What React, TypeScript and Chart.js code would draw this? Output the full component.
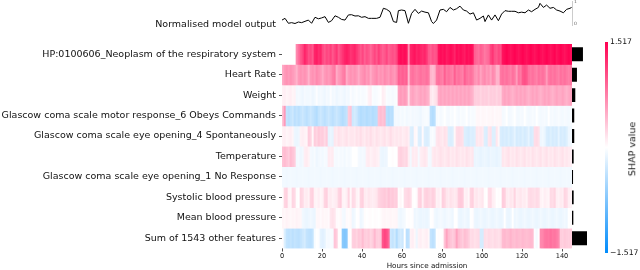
import React, { useEffect, useRef } from "react";
import { Chart, registerables } from "chart.js";

Chart.register(...registerables);
Chart.defaults.font.family = "'DejaVu Sans', sans-serif";

const rowLabels = [
  "HP:0100606_Neoplasm of the respiratory system",
  "Heart Rate",
  "Weight",
  "Glascow coma scale motor response_6 Obeys Commands",
  "Glascow coma scale eye opening_4 Spontaneously",
  "Temperature",
  "Glascow coma scale eye opening_1 No Response",
  "Systolic blood pressure",
  "Mean blood pressure",
  "Sum of 1543 other features",
];

// SHAP values per hour (0..144) for each feature row
const neoplasm = [
  0, 0, 0, 0, 0, 0, 0, 0.7, 0.85, 1.0,
  1.1, 1.3, 1.2, 1.05, 1.1, 1.0, 1.3, 1.35, 1.25, 1.3,
  1.1, 1.0, 1.1, 1.05, 1.15, 1.0, 1.1, 1.2, 1.0, 1.1,
  1.2, 1.3, 1.35, 1.3, 1.2, 1.25, 1.3, 1.2, 1.1, 1.0,
  1.1, 0.95, 1.05, 1.0, 0.9, 1.0, 1.1, 1.0, 1.15, 1.05,
  0.95, 1.0, 1.1, 0.95, 1.0, 1.05, 1.0, 1.1, 1.4, 1.45,
  1.4, 1.45, 1.4, 0.7, 1.3, 1.35, 1.4, 1.3, 1.35, 1.3,
  1.25, 1.3, 1.2, 1.0, 0.95, 1.05, 1.0, 1.05, 1.4, 1.45,
  1.4, 1.45, 1.35, 1.4, 1.45, 1.4, 1.3, 1.45, 1.4, 1.45,
  1.4, 1.35, 1.45, 1.4, 1.45, 1.4, 0.95, 0.9, 0.85, 0.95,
  0.9, 0.8, 0.85, 0.9, 1.1, 1.2, 1.05, 1.0, 1.1, 1.05,
  1.4, 1.45, 1.5, 1.45, 1.4, 1.45, 1.5, 1.45, 1.4, 1.45,
  1.5, 1.45, 1.4, 1.45, 1.5, 1.45, 1.4, 1.45, 1.5, 1.45,
  1.4, 1.45, 1.5, 1.45, 1.4, 1.45, 1.5, 1.4, 1.45, 1.5,
  1.45, 1.4, 1.45, 1.5, 1.45,
];
const heartRate = [
  0.5, 0.6, 0.65, 0.6, 0.65, 0.6, 0.55, 0.45, 0.6, 0.65,
  0.6, 0.65, 0.6, 0.45, 0.6, 0.65, 0.6, 0.7, 0.65, 0.6,
  0.5, 0.6, 0.65, 0.6, 0.65, 0.75, 0.8, 0.5, 0.6, 0.65,
  0.75, 0.8, 0.5, 0.6, 0.65, 0.6, 0.65, 0.6, 0.5, 0.6,
  0.65, 0.7, 0.6, 0.65, 0.5, 0.6, 0.65, 0.7, 0.6, 0.65,
  0.6, 0.7, 0.65, 0.6, 0.7, 0.65, 0.6, 0.7, 0.95, 0.9,
  0.95, 0.9, 0.95, 0.4, 0.8, 0.85, 0.8, 0.75, 0.8, 0.85,
  0.8, 0.8, 0.85, 0.8, 0.45, 0.4, 0.45, 0.8, 0.85, 0.8,
  0.75, 0.95, 0.8, 0.85, 0.8, 0.75, 0.95, 0.8, 0.85, 0.8,
  0.75, 0.95, 0.85, 0.8, 0.85, 0.8, 0.65, 0.6, 0.7, 0.55,
  0.65, 0.7, 0.6, 0.65, 0.55, 0.7, 0.65, 0.45, 0.45, 0.8,
  0.85, 0.8, 0.85, 0.8, 0.75, 0.85, 0.8, 0.6, 0.85, 0.8,
  1.0, 1.05, 1.0, 0.85, 0.8, 0.85, 0.8, 0.75, 0.85, 0.8,
  0.85, 0.8, 0.6, 0.8, 0.85, 0.8, 0.85, 0.8, 0.75, 0.85,
  0.8, 0.85, 0.8, 0.75, 0.8,
];
const weight = [
  0.08, 0.1, 0.06, 0.08, 0.1, 0.06, 0.08, -0.08, -0.06, -0.08,
  -0.1, -0.06, -0.08, -0.08, -0.06, -0.1, -0.08, -0.02, -0.08, -0.06,
  -0.08, -0.1, -0.06, -0.08, -0.02, -0.08, -0.06, -0.1, -0.08, -0.06,
  -0.08, -0.1, -0.06, -0.08, -0.02, -0.06, -0.04, -0.02, -0.05, -0.03,
  -0.05, -0.04, -0.02, 0.08, 0.1, -0.03, -0.05, -0.04, -0.02, 0.0,
  0.1, 0.08, -0.03, -0.05, -0.04, -0.06, -0.04, -0.03, 0.55, 0.6,
  0.55, 0.6, 0.55, 0.2, 0.5, 0.55, 0.5, 0.45, 0.5, 0.55,
  0.5, 0.55, 0.5, 0.45, 0.15, 0.1, 0.15, 0.2, 0.5, 0.55,
  0.5, 0.55, 0.5, 0.55, 0.5, 0.55, 0.5, 0.55, 0.5, 0.55,
  0.5, 0.55, 0.5, 0.55, 0.5, 0.45, 0.3, 0.28, 0.3, 0.25,
  0.3, 0.28, 0.3, 0.25, 0.3, 0.28, 0.3, 0.25, 0.3, 0.28,
  0.5, 0.55, 0.5, 0.55, 0.5, 0.45, 0.5, 0.55, 0.5, 0.55,
  0.5, 0.55, 0.5, 0.45, 0.5, 0.55, 0.5, 0.55, 0.5, 0.45,
  0.5, 0.55, 0.5, 0.55, 0.5, 0.45, 0.5, 0.55, 0.5, 0.5,
  0.55, 0.5, 0.45, 0.5, 0.55,
];
const gcsMotor6 = [
  0.35, 0.6, -0.35, -0.4, -0.35, -0.3, -0.4, -0.35, -0.4, -0.35,
  -0.3, -0.35, -0.4, -0.35, -0.3, -0.35, -0.4, -0.45, -0.35, -0.3,
  -0.35, -0.4, -0.35, -0.3, -0.35, -0.4, -0.35, -0.3, -0.35, -0.4,
  -0.45, -0.4, -0.35, 0.3, 0.35, -0.3, -0.25, -0.3, -0.4, -0.45,
  -0.42, -0.4, -0.45, -0.42, -0.4, -0.45, -0.42, -0.4, 0.35, 0.4,
  0.35, 0.4, -0.4, -0.45, -0.4, -0.42, -0.08, -0.06, -0.08, -0.05,
  -0.07, -0.04, -0.08, -0.06, -0.05, -0.08, -0.06, -0.07, -0.08, -0.1,
  -0.06, -0.05, -0.04, -0.06, -0.4, -0.45, -0.4, -0.05, -0.03, -0.06,
  -0.04, 0.0, -0.05, -0.06, -0.03, -0.05, 0.0, -0.04, -0.06, -0.03,
  -0.05, -0.04, 0.0, -0.06, -0.03, -0.05, -0.04, 0.04, 0.05, 0.03,
  0.05, 0.04, 0.03, 0.05, 0.04, 0.06, 0.03, 0.05, 0.04, 0.05,
  -0.06, -0.05, 0.0, -0.07, -0.06, -0.04, 0.0, -0.06, -0.07, -0.05,
  -0.06, 0.0, -0.05, -0.07, -0.06, -0.04, -0.06, 0.0, -0.05, -0.07,
  -0.06, -0.05, -0.07, 0.0, -0.06, -0.05, -0.07, -0.06, -0.04, -0.06,
  -0.07, -0.05, -0.06, -0.07, -0.05,
];
const gcsEye4 = [
  0.08, 0.1, 0.06, 0.08, 0.1, 0.06, -0.1, -0.12, -0.1, 0.08,
  0.1, 0.08, 0.06, 0.3, 0.25, 0.05, 0.3, 0.25, 0.32, 0.28,
  0.3, 0.22, 0.3, -0.15, -0.12, -0.15, 0.15, 0.12, 0.18, 0.15,
  0.12, 0.15, 0.18, 0.12, 0.15, 0.15, 0.12, 0.18, 0.15, 0.2,
  0.15, 0.12, 0.18, 0.15, 0.2, 0.15, 0.12, 0.18, 0.15, 0.12,
  0.15, 0.18, 0.12, 0.15, 0.2, 0.15, 0.12, 0.15, 0.12, 0.15,
  0.1, 0.12, 0.15, 0.1, -0.2, -0.22, 0.05, 0.03, -0.2, -0.22,
  0.03, -0.2, -0.22, -0.2, -0.05, -0.03, -0.06, 0.15, 0.18, 0.15,
  0.12, 0.18, 0.15, -0.2, -0.22, -0.2, 0.05, 0.2, 0.22, 0.2,
  0.18, -0.2, -0.22, -0.25, -0.2, -0.22, -0.2, 0.15, 0.12, 0.15,
  0.12, -0.2, -0.22, 0.15, 0.18, -0.2, -0.2, 0.15, 0.05, -0.22,
  -0.25, -0.22, -0.25, -0.2, -0.25, -0.22, -0.15, -0.25, -0.22, -0.25,
  -0.2, -0.25, -0.22, -0.15, -0.25, -0.22, 0.2, 0.22, 0.18, -0.1,
  -0.08, -0.12, -0.22, -0.25, -0.2, -0.25, -0.22, -0.25, -0.15, -0.25,
  -0.22, -0.25, -0.2, -0.1, -0.08,
];
const temperature = [
  0.35, 0.4, 0.35, 0.3, 0.4, 0.35, 0.3, -0.08, -0.06, -0.1,
  -0.08, 0.1, 0.12, 0.08, -0.06, -0.08, -0.05, -0.1, -0.08, -0.06,
  -0.08, -0.05, -0.06, 0.12, 0.1, 0.12, -0.05, -0.06, -0.04, -0.06,
  -0.05, -0.08, -0.04, -0.06, -0.05, 0.0, 0.0, 0.0, -0.06, -0.08,
  -0.06, -0.08, 0.1, 0.12, 0.08, 0.1, 0.12, 0.1, 0.08, -0.1,
  -0.12, -0.1, -0.1, 0.0, 0.0, 0.02, 0.0, 0.0, 0.25, 0.28,
  0.25, 0.22, 0.25, 0.1, -0.08, 0.12, 0.1, 0.12, -0.06, 0.1,
  0.12, 0.15, 0.12, -0.06, -0.08, 0.12, 0.15, 0.12, 0.15, 0.18,
  0.15, 0.12, 0.15, 0.18, 0.12, 0.15, 0.12, 0.18, 0.15, 0.12,
  0.15, 0.12, 0.18, 0.15, 0.12, 0.15, -0.12, -0.1, -0.12, -0.14,
  -0.12, -0.1, -0.12, -0.14, -0.1, -0.12, -0.12, -0.14, -0.12, -0.1,
  0.15, 0.12, 0.15, 0.18, 0.12, 0.15, 0.12, 0.18, 0.15, 0.12,
  0.15, 0.18, 0.12, 0.15, 0.12, 0.18, 0.15, 0.12, 0.15, 0.18,
  0.12, 0.15, 0.18, 0.12, 0.15, 0.12, 0.18, 0.15, 0.12, 0.15,
  0.18, 0.12, 0.15, 0.12, 0.1,
];
const gcsEye1 = [
  -0.08, -0.08, -0.09, -0.08, -0.07, -0.08, -0.08, -0.09, -0.08, -0.08,
  -0.07, -0.08, -0.08, -0.09, -0.08, -0.08, -0.07, -0.08, -0.08, -0.09,
  -0.08, -0.08, -0.07, -0.08, -0.08, -0.09, -0.08, -0.08, -0.07, -0.08,
  -0.08, -0.09, -0.08, -0.08, -0.07, -0.08, -0.08, -0.09, -0.08, -0.08,
  -0.07, -0.08, -0.08, -0.09, -0.08, -0.08, -0.07, -0.08, -0.08, -0.09,
  -0.08, -0.08, -0.07, -0.08, -0.08, -0.09, -0.08, -0.08, -0.07, -0.08,
  -0.08, -0.09, -0.08, -0.08, -0.07, -0.08, -0.08, -0.09, -0.08, -0.08,
  -0.07, -0.08, -0.08, -0.09, -0.08, -0.08, -0.07, -0.08, -0.08, -0.09,
  -0.08, -0.08, -0.07, -0.08, -0.08, -0.09, -0.08, -0.08, -0.07, -0.08,
  -0.08, -0.09, -0.08, -0.08, -0.07, -0.08, -0.08, -0.09, -0.08, -0.08,
  -0.07, -0.08, -0.08, -0.09, -0.08, -0.08, -0.07, -0.08, -0.08, -0.09,
  -0.08, -0.08, -0.07, -0.08, -0.08, -0.09, -0.08, -0.08, -0.07, -0.08,
  -0.08, -0.09, -0.08, -0.08, -0.07, -0.08, -0.08, -0.09, -0.08, -0.08,
  -0.07, -0.08, -0.08, -0.09, -0.08, -0.08, -0.07, -0.08, -0.08, -0.09,
  -0.08, -0.08, -0.07, -0.08, -0.08,
];
const systolicBP = [
  0.02, 0.25, 0.28, 0.08, 0.05, 0.25, 0.22, 0.02, 0.0, 0.25,
  0.22, 0.1, 0.12, 0.08, 0.25, 0.28, 0.08, 0.06, 0.1, 0.05,
  0.08, 0.25, 0.28, 0.1, 0.12, 0.08, 0.1, 0.12, 0.25, 0.3,
  0.08, 0.06, 0.1, 0.25, 0.05, 0.22, 0.2, 0.08, 0.05, 0.25,
  0.28, 0.12, 0.1, 0.15, 0.12, 0.1, 0.12, 0.15, 0.25, 0.28,
  0.3, 0.32, 0.28, 0.35, 0.3, 0.32, 0.28, 0.3, 0.02, 0.05,
  0.0, 0.2, 0.22, 0.25, 0.2, 0.02, 0.0, 0.03, 0.25, 0.28,
  0.1, 0.25, 0.28, 0.25, 0.22, 0.28, 0.25, 0.08, 0.1, 0.05,
  0.28, 0.25, 0.15, 0.12, 0.18, 0.15, 0.12, 0.15, 0.3, 0.32,
  0.3, 0.08, 0.1, 0.05, 0.25, 0.28, 0.12, 0.15, 0.1, 0.12,
  0.15, 0.02, 0.0, 0.2, 0.22, 0.1, 0.08, 0.0, 0.02, 0.0,
  0.3, 0.28, 0.12, 0.1, 0.15, 0.12, 0.25, 0.1, 0.12, 0.15,
  0.1, 0.12, 0.08, 0.2, 0.22, 0.2, 0.18, 0.22, 0.2, 0.08,
  0.05, 0.1, 0.08, 0.06, 0.22, 0.2, 0.25, 0.1, 0.08, 0.12,
  0.1, 0.25, 0.22, 0.1, 0.08,
];
const meanBP = [
  0.06, 0.05, 0.08, 0.06, 0.04, 0.06, 0.05, 0.08, 0.06, 0.05,
  -0.08, -0.1, -0.12, -0.1, -0.08, -0.1, -0.12, 0.04, 0.05, 0.03,
  0.06, 0.04, 0.05, 0.03, 0.15, 0.18, 0.15, 0.03, 0.02, 0.04,
  -0.06, -0.08, 0.03, 0.02, 0.04, -0.1, -0.08, 0.0, 0.01, -0.1,
  -0.08, 0.02, 0.0, 0.01, 0.02, 0.0, 0.02, 0.01, 0.0, 0.02,
  0.05, 0.06, 0.04, 0.05, 0.06, 0.04, 0.05, 0.06, -0.08, -0.1,
  -0.08, -0.06, 0.0, 0.01, 0.0, 0.01, -0.1, -0.08, -0.1, -0.12,
  -0.1, -0.1, -0.12, -0.1, 0.0, 0.01, -0.08, -0.1, -0.08, -0.06,
  -0.08, -0.1, -0.08, -0.06, -0.08, -0.1, 0.0, 0.0, -0.1, -0.12,
  -0.1, -0.08, -0.1, -0.12, 0.0, 0.01, -0.1, -0.12, -0.1, -0.08,
  -0.1, -0.12, -0.1, -0.08, -0.1, -0.12, -0.1, -0.08, -0.1, -0.12,
  -0.1, 0.0, -0.1, -0.12, -0.1, 0.0, -0.1, -0.08, -0.1, -0.12,
  -0.1, -0.08, -0.1, -0.12, -0.1, -0.08, -0.1, -0.12, -0.1, -0.08,
  -0.1, -0.12, -0.1, -0.08, -0.1, -0.12, -0.1, -0.08, -0.1, -0.12,
  -0.1, -0.08, -0.1, 0.0, 0.01,
];
const otherFeatures = [
  0.02, -0.2, -0.35, -0.38, -0.35, -0.4, -0.35, -0.38, -0.4, -0.35,
  -0.3, -0.25, -0.35, -0.38, -0.4, -0.35, -0.05, 0.0, -0.02, -0.15,
  -0.18, -0.15, -0.05, -0.06, -0.04, -0.05, 0.35, 0.3, 0.02, 0.0,
  -0.7, -0.75, -0.7, 0.02, 0.0, 0.28, 0.3, 0.25, 0.32, 0.3,
  0.4, 0.3, 0.28, 0.32, 0.25, 0.3, 0.42, 0.3, 0.28, 0.32,
  1.0, 1.1, 1.05, 0.9, -0.3, -0.35, -0.28, -0.45, -0.3, -0.25,
  -0.3, 0.0, -0.4, -0.38, 0.08, 0.1, 0.05, -0.1, 0.08, 0.1,
  0.06, 0.08, 0.1, 0.05, -0.35, -0.4, -0.35, 0.0, 0.02, 0.0,
  0.01, 0.35, 0.55, 0.4, 0.35, 0.3, 0.35, 0.55, 0.4, 0.35,
  0.3, 0.38, 0.35, 0.3, 0.2, 0.22, 0.18, 0.2, 0.22, -0.25,
  -0.25, 0.2, 0.18, 0.22, 0.2, 0.18, 0.22, 0.2, 0.18, 0.22,
  0.4, 0.42, 0.38, 0.4, 0.45, 0.4, 0.38, 0.42, 0.4, 0.38,
  0.42, 0.4, 0.38, 0.4, 0.42, 0.4, -0.02, -0.06, 0.0, 0.7,
  0.72, 0.8, 0.82, 0.8, 0.85, 0.8, 0.82, 0.78, 0.7, 0.3,
  0.28, 0.32, 0.3, 0.28, 0.3,
];

const heatRows = [
  neoplasm, heartRate, weight, gcsMotor6, gcsEye4,
  temperature, gcsEye1, systolicBP, meanBP, otherFeatures,
];

// relative mean |SHAP| (bars on the right)
const importance = [0.73, 0.33, 0.22, 0.15, 0.15, 0.11, 0.07, 0.11, 0.09, 1.0];

const xTicks = [0, 20, 40, 60, 80, 100, 120, 140];
const hoursMax = 145;
const colorLimit = 1.517;

// normalised model output
const lineHours = [
  0, 1.5, 3.2, 4.8, 6.5, 8.2, 9.8, 11.5, 13.2, 14.8,
  16.5, 18.2, 19.8, 21.5, 23.2, 24.8, 26.5, 28.2, 29.8, 31.5,
  33.2, 34.8, 36.5, 38.2, 39.8, 41.5, 43.2, 44.8, 47.3, 49,
  50.7, 52.3, 54, 55.7, 57.3, 58.2, 59.8, 61.5, 63.2, 64.8,
  66.5, 68.2, 69.8, 71.5, 73.2, 74.8, 75.7, 77.3, 79, 80.7,
  82.3, 84, 85.7, 87.3, 89, 90.7, 92.3, 94, 95.7, 97.3,
  99, 100.7, 101.5, 103.2, 104.8, 106.5, 108.2, 109.8, 111.5, 113.2,
  114.8, 116.5, 118.2, 119.8, 121.5, 123.2, 124.8, 126.5, 128.2, 129,
  130.7, 132.3, 134, 135.7, 137.3, 139, 140.7, 142.3, 144, 144.8,
];
const lineValues = [
  0.16, 0.24, 0.01, 0.04, 0.0, 0.07, 0.04, 0.10, 0.16, 0.01,
  0.29, 0.22, 0.26, 0.32, 0.05, 0.13, 0.36, 0.29, 0.19, 0.16,
  0.40, 0.41, 0.35, 0.36, 0.29, 0.32, 0.24, 0.24, 0.24, 0.29,
  0.71, 0.66, 0.55, 0.09, 0.05, 0.60, 0.63, 0.60, 0.01, 0.47,
  0.66, 0.47, 0.58, 0.53, 0.50, 0.09, 0.0, 0.16, 0.63, 0.66,
  0.55, 0.75, 0.63, 0.69, 0.81, 0.63, 0.58, 0.44, 0.50, 0.16,
  0.24, 0.35, 0.09, 0.40, 0.16, 0.40, 0.13, 0.44, 0.60, 0.57,
  0.57, 0.57, 0.50, 0.53, 0.50, 0.63, 0.55, 0.66, 0.75, 0.94,
  0.75, 0.86, 0.71, 0.75, 0.63, 0.58, 0.50, 0.66, 0.71, 0.75,
];
const lineTicks = [0, 1];
const outputLabel = "Normalised model output";

const RED = [255, 0, 81];
const BLUE = [0, 139, 251];

function shapColor(v: number): string {
  const t = Math.max(-1, Math.min(1, v / colorLimit));
  const c = t >= 0 ? RED : BLUE;
  const s = Math.abs(t);
  const r = Math.round(255 + (c[0] - 255) * s);
  const g = Math.round(255 + (c[1] - 255) * s);
  const b = Math.round(255 + (c[2] - 255) * s);
  return `rgb(${r},${g},${b})`;
}

const TEXT = "#111";
const AXIS = "#555";

const noScalePadding = (s: any) => {
  s.paddingTop = 0;
  s.paddingBottom = 0;
};

export default function App() {
  const heatRef = useRef<HTMLCanvasElement>(null);
  const barRef = useRef<HTMLCanvasElement>(null);
  const lineRef = useRef<HTMLCanvasElement>(null);
  const cbRef = useRef<HTMLCanvasElement>(null);

  useEffect(() => {
    const charts: Chart[] = [];

    charts.push(
      new Chart(heatRef.current!, {
        type: "bar",
        data: {
          datasets: heatRows.map((row, r) => ({
            data: row.map((_v, h) => ({ x: h + 0.5, y: [r, r + 1] })),
            backgroundColor: row.map((v) => shapColor(v)),
            borderWidth: 0,
            grouped: false,
            barPercentage: 1,
            categoryPercentage: 1,
          })),
        } as any,
        options: {
          responsive: false,
          animation: false,
          layout: { autoPadding: false, padding: { left: 0, right: 68, top: 44, bottom: 0 } },
          plugins: { legend: { display: false }, tooltip: { enabled: false } },
          scales: {
            x: {
              type: "linear",
              min: 0,
              max: hoursMax,
              offset: false,
              afterBuildTicks: (s: any) => {
                s.ticks = xTicks.map((v) => ({ value: v }));
              },
              ticks: { font: { size: 6.6 }, color: TEXT, padding: 1, autoSkip: false, maxRotation: 0 },
              grid: { display: true, offset: false, drawOnChartArea: false, drawTicks: true, tickLength: 3, color: AXIS },
              border: { display: false },
              title: { display: true, text: "Hours since admission", font: { size: 7.2 }, color: TEXT, padding: 0 },
              afterFit: (s: any) => {
                s.height = 21.5;
              },
            },
            y: {
              type: "linear",
              min: 0,
              max: rowLabels.length,
              reverse: true,
              afterBuildTicks: (s: any) => {
                s.ticks = rowLabels.map((_l, i) => ({ value: i + 0.5 }));
              },
              ticks: {
                callback: (_v: any, i: number) => rowLabels[i],
                font: { size: 9.5 },
                color: TEXT,
                padding: 3,
                autoSkip: false,
              },
              grid: { display: true, drawOnChartArea: false, drawTicks: true, tickLength: 3, color: AXIS },
              border: { display: true, color: AXIS, width: 1 },
              afterFit: (s: any) => {
                s.width = 282;
                noScalePadding(s);
              },
            },
          },
        } as any,
      })
    );

    charts.push(
      new Chart(barRef.current!, {
        type: "bar",
        data: {
          labels: rowLabels,
          datasets: [
            {
              data: importance,
              backgroundColor: "#000",
              borderWidth: 0,
              barPercentage: 0.68,
              categoryPercentage: 1,
            },
          ],
        },
        options: {
          indexAxis: "y",
          responsive: false,
          animation: false,
          layout: { autoPadding: false, padding: { left: 572, right: 53, top: 44, bottom: 21.5 } },
          plugins: { legend: { display: false }, tooltip: { enabled: false } },
          scales: {
            x: { display: false, min: 0, max: 1 },
            y: { display: false },
          },
        } as any,
      })
    );

    charts.push(
      new Chart(lineRef.current!, {
        type: "line",
        data: {
          datasets: [
            {
              data: lineHours.map((h, i) => ({ x: h, y: lineValues[i] })),
              borderColor: "#000",
              borderWidth: 1,
              pointRadius: 0,
              tension: 0,
              fill: false,
              yAxisID: "y",
            },
          ],
        },
        options: {
          responsive: false,
          animation: false,
          layout: { autoPadding: false, padding: { left: 0, right: 0, top: 1, bottom: 245 } },
          plugins: { legend: { display: false }, tooltip: { enabled: false } },
          scales: {
            x: { type: "linear", display: false, min: 0, max: hoursMax },
            y: {
              position: "left",
              min: -0.07,
              max: 1.05,
              afterBuildTicks: (s: any) => {
                s.ticks = [{ value: -0.037 }];
              },
              ticks: { callback: () => outputLabel, font: { size: 9.5 }, color: TEXT, padding: 6 },
              grid: { display: false, drawTicks: false },
              border: { display: false },
              afterFit: (s: any) => {
                s.width = 282;
                noScalePadding(s);
              },
            },
            y2: {
              position: "right",
              min: -0.07,
              max: 1.05,
              afterBuildTicks: (s: any) => {
                s.ticks = lineTicks.map((v) => ({ value: v }));
              },
              ticks: { font: { size: 4.5 }, color: "#666", padding: 2 },
              grid: { display: false, drawTicks: false },
              border: { display: true, color: "#ccc", width: 1 },
              afterFit: (s: any) => {
                s.width = 68;
                noScalePadding(s);
              },
            },
          },
        } as any,
      })
    );

    charts.push(
      new Chart(cbRef.current!, {
        type: "bar",
        data: {
          labels: [""],
          datasets: [
            {
              data: [[-colorLimit, colorLimit]],
              backgroundColor: (ctx: any) => {
                const area = ctx.chart.chartArea;
                if (!area) return "#fff";
                const g = ctx.chart.ctx.createLinearGradient(0, area.bottom, 0, area.top);
                g.addColorStop(0, `rgb(${BLUE.join(",")})`);
                g.addColorStop(0.5, "#fff");
                g.addColorStop(1, `rgb(${RED.join(",")})`);
                return g;
              },
              borderWidth: 0,
              barPercentage: 1,
              categoryPercentage: 1,
            },
          ],
        } as any,
        options: {
          responsive: false,
          animation: false,
          layout: { autoPadding: false, padding: { left: 605, right: 0, top: 42, bottom: 17 } },
          plugins: { legend: { display: false }, tooltip: { enabled: false } },
          scales: {
            x: { display: false },
            y: {
              position: "right",
              min: -colorLimit,
              max: colorLimit,
              afterBuildTicks: (s: any) => {
                s.ticks = [{ value: -colorLimit }, { value: colorLimit }];
              },
              ticks: {
                callback: (v: number) => (v < 0 ? "\u2212" : "") + Math.abs(v).toFixed(3),
                font: { size: 7.7 },
                color: TEXT,
                padding: 2,
              },
              grid: { display: false, drawTicks: false },
              border: { display: false },
              afterFit: (s: any) => {
                s.width = 32;
                noScalePadding(s);
              },
            },
          },
        } as any,
      })
    );

    return () => charts.forEach((c) => c.destroy());
  }, []);

  const cv: React.CSSProperties = { position: "absolute", left: 0, top: 0 };
  return (
    <div style={{ position: "fixed", left: 0, top: 0, width: 640, height: 270, background: "#fff", overflow: "hidden" }}>
      <canvas ref={heatRef} width={640} height={270} style={cv} />
      <canvas ref={barRef} width={640} height={270} style={cv} />
      <canvas ref={lineRef} width={640} height={270} style={cv} />
      <canvas ref={cbRef} width={640} height={270} style={cv} />
      <div
        style={{
          position: "absolute",
          left: 632,
          top: 149,
          transform: "translate(-50%, -50%) rotate(-90deg)",
          whiteSpace: "nowrap",
          fontFamily: "'DejaVu Sans', sans-serif",
          fontSize: 9.5,
          color: TEXT,
          lineHeight: 1,
        }}
      >
        SHAP value
      </div>
    </div>
  );
}
